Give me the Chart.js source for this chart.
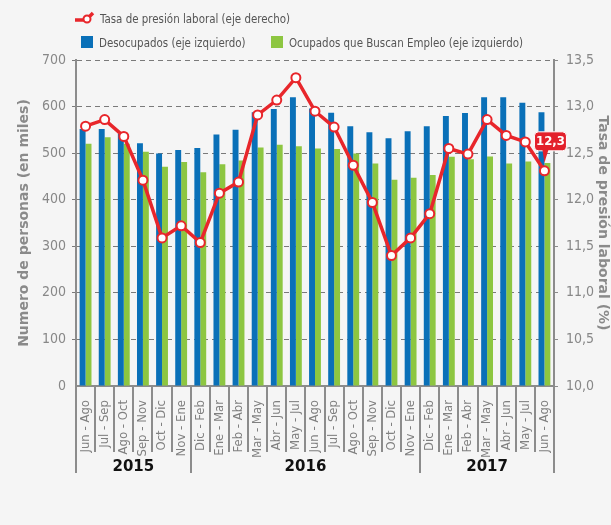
<!DOCTYPE html>
<html>
<head>
<meta charset="utf-8">
<script src="https://cdn.jsdelivr.net/npm/chart.js@4"></script>
<style>
  body { margin: 0; background: #f5f5f5; }
  #wrap { position: relative; width: 611px; height: 525px; background: #f5f5f5; }
  .leg { position: absolute; font-family: "Liberation Sans Narrow", "DejaVu Sans Condensed", sans-serif;
         font-size: 13px; color: #555; white-space: nowrap; line-height: 16px; }
  .txt { display: inline-block; transform: scaleX(0.88); transform-origin: left center; }
  .box { display: inline-block; width: 12px; height: 12px; vertical-align: -1px; margin-right: 6px; }
</style>
</head>
<body>
<div id="wrap">
  <canvas id="chart" width="611" height="525"></canvas>
  <div class="leg" style="left:74px; top:11px;">
    <svg width="22" height="14" style="vertical-align:-2px; margin-right:4px">
      <path d="M1 9 L12 9 L19 2" stroke="#e8262b" stroke-width="3.5" fill="none"/>
      <circle cx="13" cy="8" r="3.5" fill="#fff" stroke="#e8262b" stroke-width="2"/>
    </svg><span class="txt">Tasa de presión laboral (eje derecho)</span>
  </div>
  <div class="leg" style="left:81px; top:35px;"><span class="box" style="background:#0a70b8"></span><span class="txt">Desocupados (eje izquierdo)</span></div>
  <div class="leg" style="left:271px; top:35px;"><span class="box" style="background:#8dc641"></span><span class="txt">Ocupados que Buscan Empleo (eje izquierdo)</span></div>
</div>
<script>
// periodos moviles trimestrales
var periodos = ["Jun - Ago", "Jul - Sep", "Ago - Oct", "Sep - Nov", "Oct - Dic", "Nov - Ene",
  "Dic - Feb", "Ene - Mar", "Feb - Abr", "Mar - May", "Abr - Jun", "May - Jul",
  "Jun - Ago", "Jul - Sep", "Ago - Oct", "Sep - Nov", "Oct - Dic", "Nov - Ene",
  "Dic - Feb", "Ene - Mar", "Feb - Abr", "Mar - May", "Abr - Jun", "May - Jul", "Jun - Ago"];

// miles de personas
var desocupados = [552, 552, 542, 521, 499, 507, 511, 540, 550, 588, 595, 620, 596,
  587, 558, 545, 532, 547, 558, 580, 586, 620, 620, 608, 588];
var ocupadosBuscan = [520, 534, 520, 503, 471, 481, 459, 476, 484, 512, 518, 515, 510,
  509, 499, 478, 443, 447, 453, 492, 487, 493, 478, 482, 479];

// tasa de presion laboral (%)
var tasa = [12.79, 12.86, 12.68, 12.21, 11.59, 11.72, 11.54, 12.07, 12.19, 12.91, 13.07, 13.31, 12.95,
  12.78, 12.37, 11.97, 11.40, 11.59, 11.85, 12.55, 12.49, 12.86, 12.69, 12.62, 12.31];

// grupos de anios (indices de periodos)
var anios = ["2015", "2016", "2017"];
var anioDesde = [0, 6, 18];
var anioHasta = [5, 17, 24];

var narrow = '"Liberation Sans Narrow", "DejaVu Sans Condensed", sans-serif';

function coma(v) { return v.toFixed(1).replace(".", ","); }

// separadores y anios debajo del eje x, etiqueta del ultimo valor
var extras = {
  id: "extras",
  afterDraw: function(chart) {
    var ctx = chart.ctx;
    var x = chart.scales.x;
    var bottom = chart.chartArea.bottom;
    var half = (x.getPixelForValue(1) - x.getPixelForValue(0)) / 2;
    ctx.save();
    ctx.strokeStyle = "#8c8c8c";
    ctx.lineWidth = 2;
    for (var i = 0; i <= periodos.length; i++) {
      var px = Math.round(x.getPixelForValue(i) - half);
      var largo = anioDesde.indexOf(i) >= 0 || i == periodos.length;
      ctx.beginPath();
      ctx.moveTo(px, bottom);
      ctx.lineTo(px, largo ? bottom + 87 : bottom + 66);
      ctx.stroke();
    }
    ctx.fillStyle = "#111";
    ctx.font = "bold 15px 'DejaVu Sans', sans-serif";
    ctx.textAlign = "center";
    ctx.textBaseline = "middle";
    for (var k = 0; k < anios.length; k++) {
      var cx = (x.getPixelForValue(anioDesde[k]) + x.getPixelForValue(anioHasta[k])) / 2;
      ctx.fillText(anios[k], cx, bottom + 81);
    }
    ctx.restore();
  },
  afterDatasetsDraw: function(chart) {
    var ctx = chart.ctx;
    var meta = chart.getDatasetMeta(0);
    var last = meta.data[meta.data.length - 1];
    var bx = last.x + 6, by = last.y - 30;
    ctx.save();
    ctx.fillStyle = "#e3202b";
    ctx.strokeStyle = "#fff";
    ctx.lineWidth = 1;
    ctx.beginPath();
    ctx.roundRect(bx - 16, by - 9, 32, 19, 4);
    ctx.fill();
    ctx.stroke();
    ctx.beginPath();
    ctx.moveTo(bx - 8, by + 9);
    ctx.lineTo(bx - 2, by + 9);
    ctx.lineTo(last.x, last.y - 8);
    ctx.closePath();
    ctx.fill();
    ctx.fillStyle = "#fff";
    ctx.font = "bold 13px " + narrow;
    ctx.textAlign = "center";
    ctx.textBaseline = "middle";
    ctx.fillText(coma(tasa[tasa.length - 1]), bx, by + 1);
    ctx.restore();
  }
};

new Chart(document.getElementById("chart"), {
  type: "bar",
  data: {
    labels: periodos,
    datasets: [
      {
        type: "line",
        label: "Tasa de presión laboral (eje derecho)",
        data: tasa,
        yAxisID: "y1",
        order: 0,
        borderColor: "#e8262b",
        borderWidth: 3.5,
        pointRadius: 4.5,
        pointBorderWidth: 2,
        pointBackgroundColor: "#fff",
        pointBorderColor: "#e8262b",
        tension: 0
      },
      {
        label: "Desocupados (eje izquierdo)",
        data: desocupados,
        yAxisID: "y",
        order: 1,
        backgroundColor: "#0a70b8",
        categoryPercentage: 0.62,
        barPercentage: 1
      },
      {
        label: "Ocupados que Buscan Empleo (eje izquierdo)",
        data: ocupadosBuscan,
        yAxisID: "y",
        order: 1,
        backgroundColor: "#8dc641",
        categoryPercentage: 0.62,
        barPercentage: 1
      }
    ]
  },
  options: {
    responsive: false,
    animation: false,
    layout: { padding: { top: 60, bottom: 49, left: 0, right: 0 } },
    plugins: { legend: { display: false }, tooltip: { enabled: false } },
    scales: {
      x: {
        grid: { display: false },
        border: { color: "#8c8c8c", width: 2 },
        ticks: {
          minRotation: 90, maxRotation: 90, autoSkip: false, padding: 6,
          color: "#808080", font: { family: narrow, size: 13 }
        },
        afterFit: function(scale) { scale.height = 90; }
      },
      y: {
        position: "left",
        min: 0, max: 700,
        ticks: { stepSize: 100, color: "#888", padding: 6, font: { family: narrow, size: 14 } },
        grid: {
          color: function(c) { return c.tick && c.tick.value === 0 ? "rgba(0,0,0,0)" : "#7a7a7a"; },
          lineWidth: 1, tickLength: 4
        },
        border: { color: "#8c8c8c", width: 2, dash: [5, 4] },
        title: {
          display: true, text: "Numero de personas (en miles)", color: "#8a8a8a",
          font: { family: "'DejaVu Sans', sans-serif", size: 14, weight: "bold" },
          padding: { top: 16, bottom: 0 }
        },
        afterFit: function(scale) { scale.width = 76; }
      },
      y1: {
        position: "right",
        min: 10, max: 13.5,
        ticks: {
          stepSize: 0.5, color: "#888", padding: 8, font: { family: narrow, size: 14 },
          callback: function(v) { return coma(v); }
        },
        grid: { drawOnChartArea: false, color: "#8c8c8c", tickLength: 4 },
        border: { color: "#8c8c8c", width: 2 },
        title: {
          display: true, text: "Tasa de presión laboral (%)", color: "#8a8a8a",
          font: { family: "'DejaVu Sans', sans-serif", size: 14, weight: "bold" }, padding: 0
        },
        afterFit: function(scale) { scale.width = 57; }
      }
    }
  },
  plugins: [extras]
});
</script>
</body>
</html>
